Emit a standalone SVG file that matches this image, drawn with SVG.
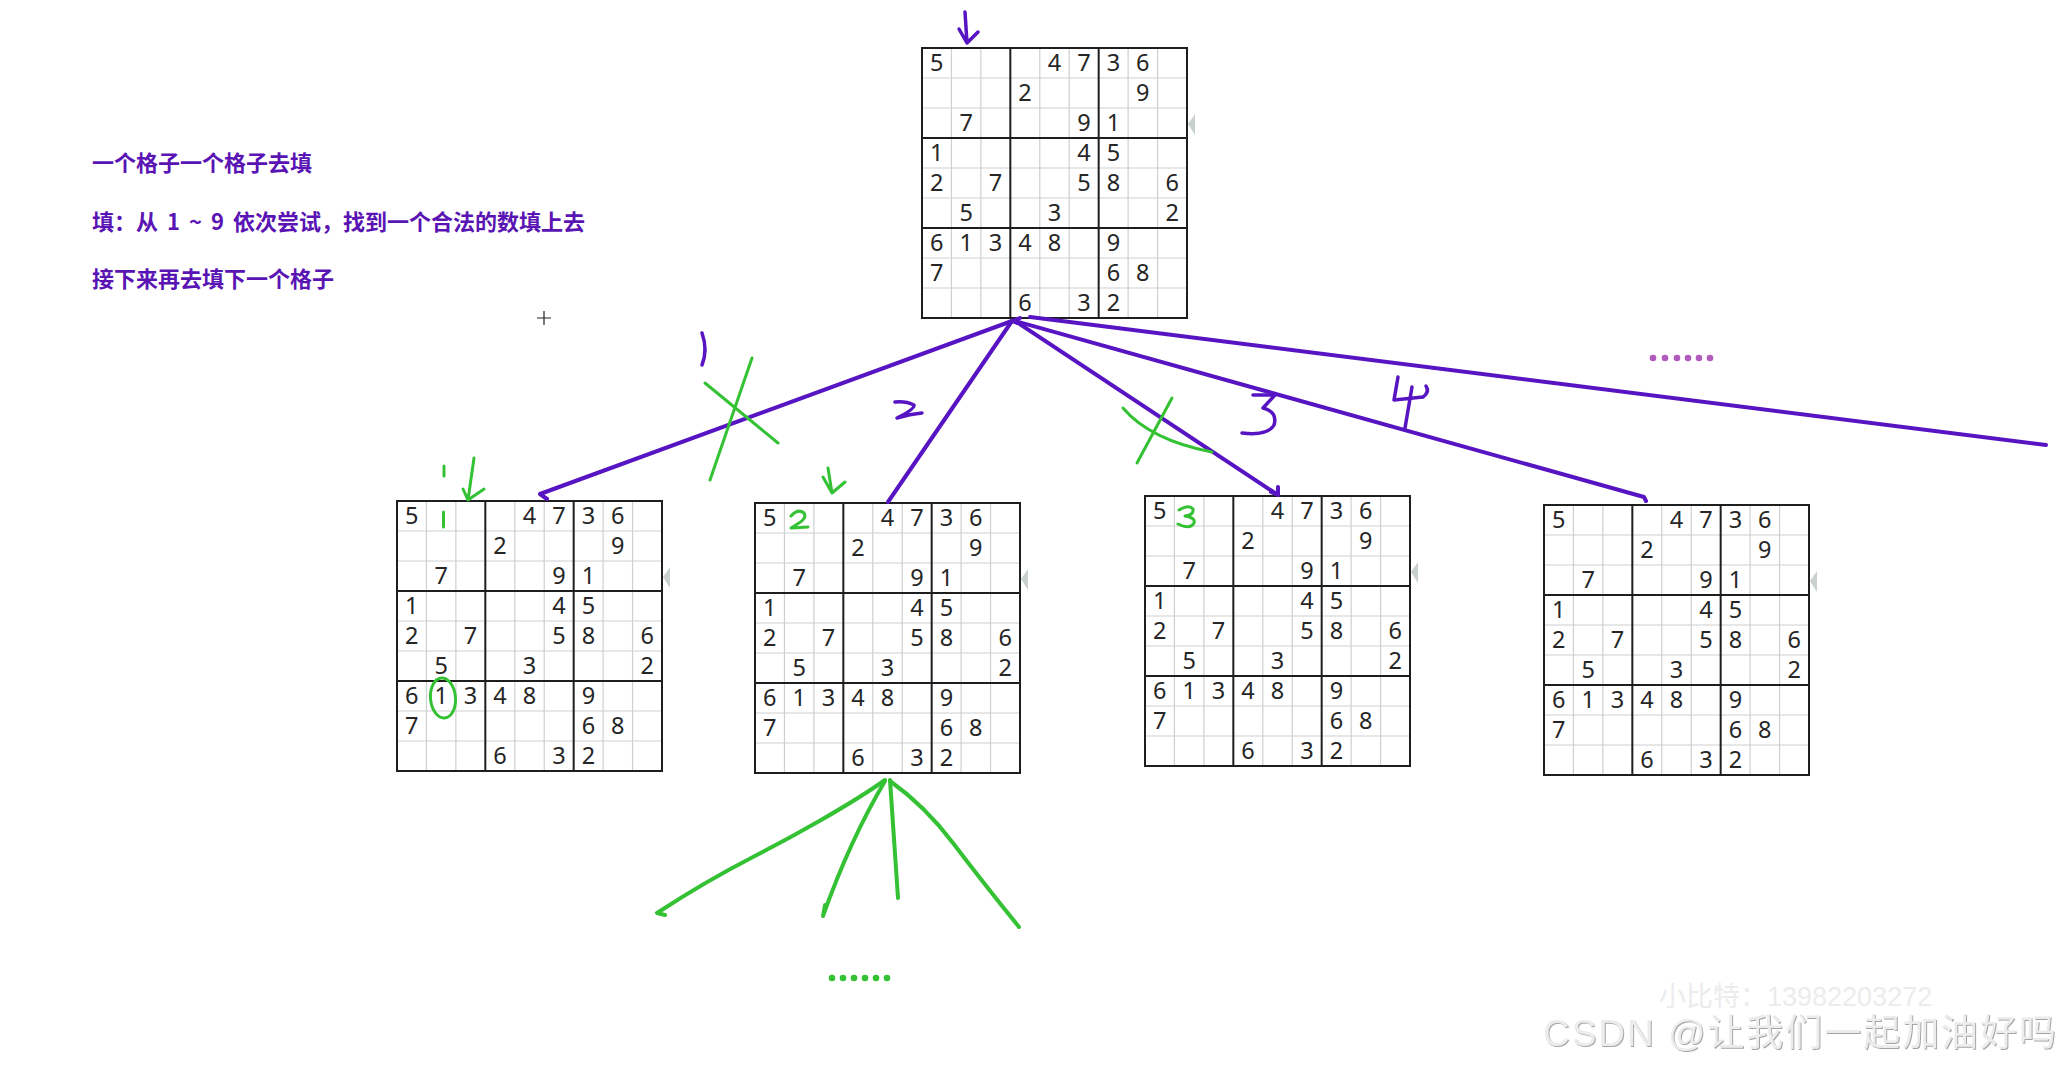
<svg xmlns="http://www.w3.org/2000/svg" xmlns:xlink="http://www.w3.org/1999/xlink" width="2062" height="1066" viewBox="0 0 2062 1066">
<style>
.thin{stroke:#cfcfcf;stroke-width:1.2;fill:none}
.thick{stroke:#1e1e1e;stroke-width:2;fill:none}
.d{font-family:"Noto Sans","Liberation Sans",sans-serif;font-size:23.5px;fill:#262626;text-anchor:middle}
.note{font-family:"Noto Sans CJK SC","Noto Sans",sans-serif;font-size:22px;font-weight:bold;fill:#5a14b4}
.pl{stroke:#5714c2;stroke-width:4;fill:none;stroke-linecap:round;stroke-linejoin:round}
.ph{stroke:#5714c2;stroke-width:3.5;fill:none;stroke-linecap:round;stroke-linejoin:round}
.gl{stroke:#34c234;stroke-width:4;fill:none;stroke-linecap:round;stroke-linejoin:round}
.gh{stroke:#34c234;stroke-width:3;fill:none;stroke-linecap:round;stroke-linejoin:round}
.wm{font-family:"Liberation Sans","Noto Sans CJK SC",sans-serif}
</style>
<defs>
<filter id="emboss" x="-5%" y="-20%" width="110%" height="140%">
<feDropShadow dx="1" dy="1" stdDeviation="0.6" flood-color="#9a9a9a" flood-opacity="0.9"/>
</filter>
<symbol id="board" overflow="visible">
<rect x="0" y="0" width="265" height="270" fill="#fff"/>
<path class="thin" d="M29.44,0V270M58.89,0V270M117.78,0V270M147.22,0V270M206.11,0V270M235.56,0V270M0,30H265M0,60H265M0,120H265M0,150H265M0,210H265M0,240H265"/>
<path class="thick" d="M88.33,0V270M176.67,0V270M0,90H265M0,180H265"/>
<rect class="thick" x="0" y="0" width="265" height="270"/>
<path d="M266,76 L273,66 L273,87 Z" fill="#c9d0d0"/>
<text class="d" x="14.7" y="23.3">5</text><text class="d" x="132.5" y="23.3">4</text><text class="d" x="162" y="23.3">7</text><text class="d" x="191.4" y="23.3">3</text><text class="d" x="220.8" y="23.3">6</text>
<text class="d" x="103.1" y="53.3">2</text><text class="d" x="220.8" y="53.3">9</text>
<text class="d" x="44.2" y="83.3">7</text><text class="d" x="162" y="83.3">9</text><text class="d" x="191.4" y="83.3">1</text>
<text class="d" x="14.7" y="113.3">1</text><text class="d" x="162" y="113.3">4</text><text class="d" x="191.4" y="113.3">5</text>
<text class="d" x="14.7" y="143.3">2</text><text class="d" x="73.6" y="143.3">7</text><text class="d" x="162" y="143.3">5</text><text class="d" x="191.4" y="143.3">8</text><text class="d" x="250.3" y="143.3">6</text>
<text class="d" x="44.2" y="173.3">5</text><text class="d" x="132.5" y="173.3">3</text><text class="d" x="250.3" y="173.3">2</text>
<text class="d" x="14.7" y="203.3">6</text><text class="d" x="44.2" y="203.3">1</text><text class="d" x="73.6" y="203.3">3</text><text class="d" x="103.1" y="203.3">4</text><text class="d" x="132.5" y="203.3">8</text><text class="d" x="191.4" y="203.3">9</text>
<text class="d" x="14.7" y="233.3">7</text><text class="d" x="191.4" y="233.3">6</text><text class="d" x="220.8" y="233.3">8</text>
<text class="d" x="103.1" y="263.3">6</text><text class="d" x="162" y="263.3">3</text><text class="d" x="191.4" y="263.3">2</text>
</symbol>
</defs>
<rect width="2062" height="1066" fill="#fff"/>

<g id="notes">
<text class="note" x="92" y="171">一个格子一个格子去填</text>
<text class="note" x="92" y="230" word-spacing="4">填：从 1 ~ 9 依次尝试，找到一个合法的数填上去</text>
<text class="note" x="92" y="287">接下来再去填下一个格子</text>
</g>
<path id="cursor" d="M537,318H551M544,311V325" stroke="#222" stroke-width="1.2"/>

<g id="node-root">
<use xlink:href="#board" x="922" y="48"/>
<path class="ph" d="M965,12 L967,43 M959,29 L967,43 L978,32"/>
</g>

<g id="node-try1">
<use xlink:href="#board" x="397" y="501"/>
<path class="gh" d="M443.5,512 L443.5,527"/>
<ellipse cx="443" cy="698" rx="12.5" ry="20" class="gh" transform="rotate(-5 443 698)"/>
<path class="gh" d="M474,458 L468,500 M463,489 L468,500 L484,489"/>
<path class="gh" d="M444,466 L444,476"/>
</g>

<g id="node-try2">
<use xlink:href="#board" x="755" y="503"/>
<path class="gh" stroke-width="3.5" d="M791,516 Q798,508 804,513 Q807,518 799,523 L791,528 L808,527"/>
<path class="gh" d="M828,468 L832,493 M823,477 L832,493 L845,482"/>
</g>

<g id="node-try3">
<use xlink:href="#board" x="1145" y="496"/>
<path class="gh" stroke-width="3.5" d="M1179,510 Q1189,504 1193,509 Q1194,515 1185,516 Q1196,518 1194,523 Q1190,530 1178,524"/>
</g>

<g id="node-try4">
<use xlink:href="#board" x="1544" y="505"/>
</g>

<g id="connectors">
<path class="pl" d="M1012,321 L540,494 L547,499"/>
<path class="pl" d="M1012,321 L888,502"/>
<path class="pl" d="M1015,321 L1278,495 M1271,492 L1278,495 L1278,487"/>
<path class="pl" d="M1015,321 L1644,497 L1646,501"/>
<path class="pl" d="M1030,317 L2046,445"/>
<path class="pl" d="M1017,323 L1012,321 L1020,318"/>
<path class="gl" d="M885,780 C850,805 790,838 753,857 S680,898 657,913 L665,915"/>
<path class="gl" d="M885,781 Q850,840 823,916 L825,905"/>
<path class="gl" d="M890,780 Q893,827 898,898"/>
<path class="gl" d="M890,781 Q925,806 953,843 T1019,927"/>
</g>

<g id="labels">
<path class="ph" d="M702,333 Q708,350 702,365"/>
<path class="ph" d="M895,402 Q906,401 914,405 Q915,409 897,418 Q910,414 922,413"/>
<path class="ph" d="M1253,395 L1275,395 L1263,408 Q1278,412 1274,425 Q1268,436 1242,433"/>
<path class="ph" d="M1398,377 L1394,400 L1423,397 Q1430,392 1426,386 M1412,387 L1405,428"/>
<path class="gh" d="M752,358 L710,480 M705,383 L778,443"/>
<path class="gh" d="M1172,398 L1137,463 M1123,408 Q1150,440 1212,452"/>
<g fill="#b15bbd"><circle cx="1653" cy="358" r="3.3"/><circle cx="1665" cy="358" r="3.3"/><circle cx="1677" cy="358" r="3.3"/><circle cx="1688" cy="358" r="3.3"/><circle cx="1699" cy="358" r="3.3"/><circle cx="1710" cy="358" r="3.3"/></g>
<g fill="#34c234"><circle cx="832" cy="978" r="3.3"/><circle cx="843" cy="978" r="3.3"/><circle cx="854" cy="978" r="3.3"/><circle cx="865" cy="978" r="3.3"/><circle cx="876" cy="978" r="3.3"/><circle cx="887" cy="978" r="3.3"/></g>
</g>

<g id="watermark" class="wm">
<text x="1659" y="1006" font-size="27" fill="#ececec">小比特：13982203272</text>
<text x="1543" y="1046" font-size="37" fill="#ececec" textLength="513" filter="url(#emboss)">CSDN @让我们一起加油好吗</text>
</g>
</svg>
